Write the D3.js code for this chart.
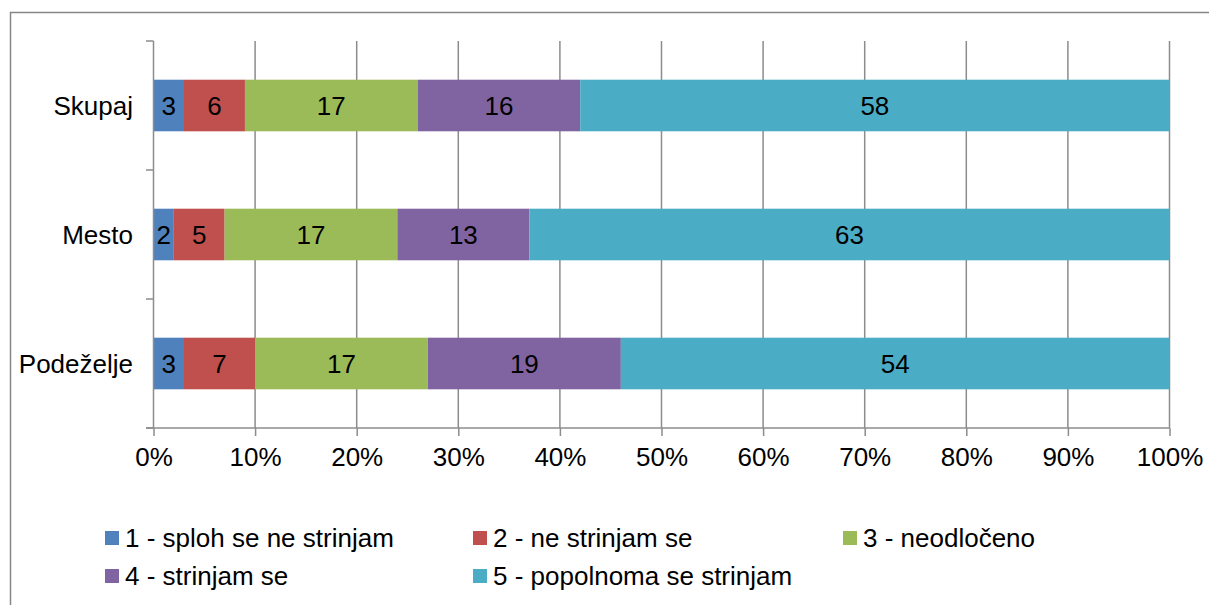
<!DOCTYPE html>
<html>
<head>
<meta charset="utf-8">
<script src="https://cdn.jsdelivr.net/npm/d3@7"></script>
<style>
  body { margin: 0; background: #fff; }
  text { font-family: "Liberation Sans", Arial, sans-serif; fill: #000; }
</style>
</head>
<body>
<script>
const width = 1209;
const height = 605;

const categories = ['Skupaj', 'Mesto', 'Podeželje'];
const seriesNames = ['1 - sploh se ne strinjam', '2 - ne strinjam se', '3 - neodločeno', '4 - strinjam se', '5 - popolnoma se strinjam'];
const seriesColors = ['#4F81BD', '#C0504D', '#9BBB59', '#8064A2', '#4BACC6'];
const values = [
  [3, 6, 17, 16, 58],
  [2, 5, 17, 13, 63],
  [3, 7, 17, 19, 54]
];
const xTicks = [0, 10, 20, 30, 40, 50, 60, 70, 80, 90, 100];

const fs = '26px';

const svg = d3.select('body')
              .append('svg')
              .attr('width', width)
              .attr('height', height);

// outer frame
svg.append('rect')
   .attr('x', 10.5).attr('y', 12.5)
   .attr('width', 1220).attr('height', 620)
   .attr('fill', 'none')
   .attr('stroke', '#868686')
   .attr('stroke-width', 1.5);

const x = d3.scaleLinear().domain([0, 100]).range([153.5, 1169.5]);
const y = d3.scaleBand().domain(categories).range([41, 428]).paddingInner(0.6).paddingOuter(0.3);

const grid = '#8c8c8c';

// gridlines
svg.append('g')
   .selectAll('line')
   .data(xTicks.slice(1))
   .join('line')
   .attr('x1', d => x(d)).attr('x2', d => x(d))
   .attr('y1', 41).attr('y2', 428)
   .attr('stroke', grid).attr('stroke-width', 1.5);

// stacked bars
const rows = categories.map((c, i) => {
  let acc = 0;
  return values[i].map((v, j) => {
    const seg = {cat: c, v: v, x0: acc, x1: acc + v, color: seriesColors[j]};
    acc += v;
    return seg;
  });
});

const bars = svg.append('g');
rows.forEach(segs => {
  bars.selectAll(null)
      .data(segs)
      .enter().append('rect')
      .attr('x', d => x(d.x0))
      .attr('y', d => y(d.cat))
      .attr('width', d => x(d.x1) - x(d.x0))
      .attr('height', y.bandwidth())
      .attr('fill', d => d.color);
  bars.selectAll(null)
      .data(segs)
      .enter().append('text')
      .attr('x', d => (x(d.x0) + x(d.x1)) / 2)
      .attr('y', d => y(d.cat) + y.bandwidth() / 2)
      .attr('dy', '0.36em')
      .attr('text-anchor', 'middle')
      .style('font-size', fs)
      .text(d => d.v);
});

// y axis line with category ticks
const axisG = svg.append('g');
axisG.append('line')
     .attr('x1', 153.5).attr('x2', 153.5).attr('y1', 41).attr('y2', 428)
     .attr('stroke', grid).attr('stroke-width', 1.5);
const yTickPos = [41, 170, 299, 428];
axisG.selectAll('line.yt')
     .data(yTickPos)
     .join('line')
     .attr('class', 'yt')
     .attr('x1', 146).attr('x2', 153.5)
     .attr('y1', d => d).attr('y2', d => d)
     .attr('stroke', grid).attr('stroke-width', 1.5);

// x axis
const xAxis = d3.axisBottom(x)
                .tickValues(xTicks)
                .tickFormat(d => d + '%')
                .tickSize(8)
                .tickPadding(12);
const xg = svg.append('g')
              .attr('transform', 'translate(0,428)')
              .call(xAxis);
xg.select('.domain').attr('stroke', grid).attr('stroke-width', 1.5).attr('d', 'M146,0H1169.5');
xg.selectAll('.tick line').attr('stroke', grid).attr('stroke-width', 1.5);
xg.selectAll('.tick text').style('font-size', fs).attr('fill', '#000')
  .style('font-family', '"Liberation Sans", Arial, sans-serif');

// category labels
svg.append('g')
   .selectAll('text')
   .data(categories)
   .join('text')
   .attr('x', 133)
   .attr('y', d => y(d) + y.bandwidth() / 2)
   .attr('dy', '0.36em')
   .attr('text-anchor', 'end')
   .style('font-size', fs)
   .text(d => d);

// legend
const legendPos = [[105, 538], [473, 538], [843, 538], [105, 576], [473, 576]];
const legend = svg.append('g')
                  .selectAll('g')
                  .data(seriesNames)
                  .join('g')
                  .attr('transform', (d, i) => `translate(${legendPos[i][0]},${legendPos[i][1]})`);
legend.append('rect')
      .attr('x', 0).attr('y', -7)
      .attr('width', 14).attr('height', 14)
      .attr('fill', (d, i) => seriesColors[i]);
legend.append('text')
      .attr('x', 20)
      .attr('dy', '0.36em')
      .style('font-size', fs)
      .text(d => d);
</script>
</body>
</html>
